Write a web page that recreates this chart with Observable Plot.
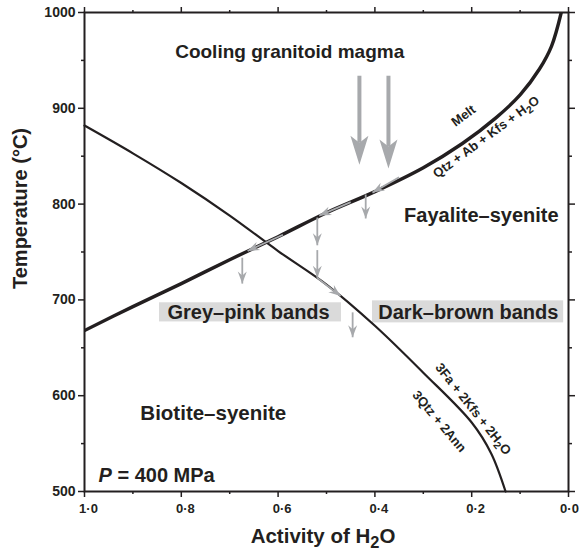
<!DOCTYPE html>
<html>
<head>
<meta charset="utf-8">
<script src="https://cdn.jsdelivr.net/npm/d3@7"></script>
<script src="https://cdn.jsdelivr.net/npm/@observablehq/plot@0.6"></script>
<style>
  html, body { margin: 0; padding: 0; background: #fff; }
</style>
</head>
<body>
<div id="chart"></div>
<script>
// ---------- data ----------
// Melt = Qtz + Ab + Kfs + H2O (activity of H2O vs temperature)
const meltA = [1.0, 0.9, 0.8, 0.7, 0.6, 0.5, 0.4, 0.3, 0.22, 0.15, 0.1, 0.06, 0.035, 0.015];
const meltT = [668, 693, 717, 742, 766, 791, 813, 838, 863, 890, 914, 941, 965, 1000];
// 3Fa + 2Kfs + 2H2O = 3Qtz + 2Ann
const fayA = [1.0, 0.9, 0.8, 0.7, 0.6, 0.5, 0.4, 0.3, 0.2, 0.16, 0.13];
const fayT = [882, 853, 822, 788, 751, 716, 673, 624, 572, 540, 500];

// big "cooling magma" arrows: activity, start T, end T (shaft end)
const bigArrowA = [0.432, 0.372];
const bigArrowT0 = [934, 934];
const bigArrowT1 = [864, 860];

// small grey arrows (tip at a1,T1)
const smallArrowA0 = [0.35, 0.45, 0.59, 0.419, 0.519, 0.519, 0.674, 0.446, 0.519];
const smallArrowT0 = [828, 802, 768, 810, 786, 752, 744, 687, 723];
const smallArrowA1 = [0.405, 0.515, 0.663, 0.419, 0.519, 0.519, 0.674, 0.446, 0.471];
const smallArrowT1 = [812, 788, 751, 785, 757, 723, 717, 661, 704];

// field / band labels
const fieldLabels = ["Cooling granitoid magma", "Fayalite–syenite", "Biotite–syenite", "P = 400 MPa"];
const fieldA = [0.576, 0.180, 0.734, 0.851];
const fieldT = [959, 788, 582, 517];
const fieldSize = [19, 20, 20.5, 20];

const bandLabels = ["Grey–pink bands", "Dark–brown bands"];
const bandA = [0.661, 0.207];
const bandT = [687, 687];
const bandBoxA1 = [0.845, 0.405];
const bandBoxA2 = [0.469, 0.010];
const bandBoxT1 = [677, 676];
const bandBoxT2 = [697, 699];

// reaction labels along curves
const curveLabels = ["Melt", "Qtz + Ab + Kfs + H₂O", "3Fa + 2Kfs + 2H₂O", "3Qtz + 2Ann"];
const curveLabelA = [0.217, 0.170, 0.197, 0.267];
const curveLabelT = [892, 870, 586, 573];
const curveLabelAngle = [-37, -36.5, 51.5, 50];

// axis ticks
const xMajor = [1.0, 0.8, 0.6, 0.4, 0.2, 0.0];
const xMinor = [0.9, 0.7, 0.5, 0.3, 0.1];
const yMajor = [500, 600, 700, 800, 900, 1000];
const yMinor = [550, 650, 750, 850, 950];

const xTitle = "Activity of H₂O";
const yTitle = "Temperature (°C)";

// ---------- build tables ----------
const melt = meltA.map((a, i) => ({a, t: meltT[i]}));
const fay = fayA.map((a, i) => ({a, t: fayT[i]}));
const bigArrows = bigArrowA.map((a, i) => ({a, t0: bigArrowT0[i], t1: bigArrowT1[i]}));
const smallArrows = smallArrowA0.map((a0, i) => ({a0, t0: smallArrowT0[i], a1: smallArrowA1[i], t1: smallArrowT1[i]}));
const fields = fieldLabels.map((text, i) => ({text, a: fieldA[i], t: fieldT[i], s: fieldSize[i]}));
const bands = bandLabels.map((text, i) => ({text, a: bandA[i], t: bandT[i], a1: bandBoxA1[i], a2: bandBoxA2[i], t1: bandBoxT1[i], t2: bandBoxT2[i]}));
const curveTexts = curveLabels.map((text, i) => ({text, a: curveLabelA[i], t: curveLabelT[i], r: curveLabelAngle[i]}));

const INK = "#231f20";
const GREY = "#a7a9ac";
const fmt = d => d.toFixed(1).replace(".", "·");
const blank = () => "";

// custom filled, notched arrow head marker
function head(len, wid, back, refAtTip) {
  return (color, context) => {
    const doc = (context && context.document) || document;
    const ns = "http://www.w3.org/2000/svg";
    const m = doc.createElementNS(ns, "marker");
    const tip = refAtTip ? 0 : len - back;
    const x0 = tip - len;
    m.setAttribute("viewBox", `${x0} ${-wid / 2} ${len} ${wid}`);
    m.setAttribute("markerWidth", len);
    m.setAttribute("markerHeight", wid);
    m.setAttribute("markerUnits", "userSpaceOnUse");
    m.setAttribute("orient", "auto");
    m.setAttribute("refX", 0);
    m.setAttribute("refY", 0);
    m.setAttribute("overflow", "visible");
    const p = doc.createElementNS(ns, "path");
    p.setAttribute("d", `M${tip},0L${x0},${-wid / 2}L${x0 + back},0L${x0},${wid / 2}Z`);
    p.setAttribute("fill", color);
    p.setAttribute("stroke", "none");
    m.appendChild(p);
    return m;
  };
}

const chart = Plot.plot({
  width: 579,
  height: 553,
  marginLeft: 84,
  marginRight: 11,
  marginTop: 12,
  marginBottom: 62,
  x: {domain: [1, 0], label: null},
  y: {domain: [500, 1000], label: null},
  style: {
    fontFamily: "'Liberation Sans', Arial, Helvetica, sans-serif",
    fontWeight: "bold",
    fontSize: "13px",
    color: INK,
    background: "#fff",
    overflow: "visible"
  },
  marks: [
    // label boxes
    Plot.rect(bands, {x1: "a1", x2: "a2", y1: "t1", y2: "t2", fill: "#dadada"}),
    // ticks (outward), all four sides
    Plot.axisX(xMajor, {anchor: "bottom", tickSize: 6, tickFormat: blank, strokeWidth: 1.5, stroke: INK, label: null}),
    Plot.axisX(xMinor, {anchor: "bottom", tickSize: 3, tickFormat: blank, strokeWidth: 1.5, stroke: INK, label: null}),
    Plot.axisX(xMajor, {anchor: "top", tickSize: 6, tickFormat: blank, strokeWidth: 1.5, stroke: INK, label: null}),
    Plot.axisX(xMinor, {anchor: "top", tickSize: 3, tickFormat: blank, strokeWidth: 1.5, stroke: INK, label: null}),
    Plot.axisY(yMajor, {anchor: "left", tickSize: 6, tickFormat: blank, strokeWidth: 1.5, stroke: INK, label: null}),
    Plot.axisY(yMinor, {anchor: "left", tickSize: 3, tickFormat: blank, strokeWidth: 1.5, stroke: INK, label: null}),
    Plot.axisY(yMajor, {anchor: "right", tickSize: 6, tickFormat: blank, strokeWidth: 1.5, stroke: INK, label: null}),
    Plot.axisY(yMinor, {anchor: "right", tickSize: 3, tickFormat: blank, strokeWidth: 1.5, stroke: INK, label: null}),
    // tick labels
    Plot.axisX(xMajor.slice(0, -1), {anchor: "bottom", tickSize: 0, tickPadding: 12, dx: 4, tickFormat: fmt, fontSize: 13, fill: INK, label: null}),
    Plot.axisX(xMajor.slice(-1), {anchor: "bottom", tickSize: 0, tickPadding: 12, dx: 1, tickFormat: fmt, fontSize: 13, fill: INK, label: null}),
    Plot.axisY(yMajor, {anchor: "left", tickSize: 0, tickPadding: 9, tickFormat: d => String(d), fontSize: 14, fill: INK, label: null}),
    // axis titles
    Plot.text([xTitle], {frameAnchor: "bottom", lineAnchor: "middle", textAnchor: "middle", dy: 45, dx: -3.5, fontSize: 20.5, fill: INK, text: d => d}),
    Plot.text([yTitle], {frameAnchor: "left", lineAnchor: "middle", textAnchor: "middle", rotate: -90, dx: -63.5, dy: -43.5, fontSize: 20, fill: INK, text: d => d}),
    // curves
    Plot.line(fay, {x: "a", y: "t", stroke: INK, strokeWidth: 2.2, curve: "catmull-rom"}),
    Plot.line(melt, {x: "a", y: "t", stroke: INK, strokeWidth: 3.4, curve: "catmull-rom", clip: true}),
    // grey arrows
    Plot.link(bigArrows, {x1: "a", x2: "a", y1: "t0", y2: "t1", stroke: GREY, strokeWidth: 4, markerEnd: head(29, 18, 7, false)}),
    Plot.link(smallArrows, {x1: "a0", y1: "t0", x2: "a1", y2: "t1", stroke: GREY, strokeWidth: 1.8, markerEnd: head(12, 9, 4, true)}),
    // text labels
    Plot.text(fields, {x: "a", y: "t", text: "text", fontSize: "s", fill: INK}),
    Plot.text(bands, {x: "a", y: "t", text: "text", fontSize: 20, fill: INK}),
    Plot.text(curveTexts, {x: "a", y: "t", text: "text", rotate: "r", fontSize: 13, fill: INK}),
    // frame
    Plot.frame({stroke: INK, strokeWidth: 2})
  ]
});

document.getElementById("chart").appendChild(chart);

// rich text: subscripts for H₂O and italic P
const NS = "http://www.w3.org/2000/svg";
chart.querySelectorAll("text").forEach(el => {
  const s = el.textContent;
  if (s.includes("₂")) {
    const fs = parseFloat(getComputedStyle(el).fontSize) || 13;
    const shift = fs * 0.24;
    const parts = s.split("₂");
    el.textContent = "";
    parts.forEach((p, i) => {
      const t = document.createElementNS(NS, "tspan");
      t.textContent = p;
      if (i > 0) t.setAttribute("dy", -shift);
      el.appendChild(t);
      if (i < parts.length - 1) {
        const sub = document.createElementNS(NS, "tspan");
        sub.textContent = "2";
        sub.setAttribute("dy", shift);
        sub.setAttribute("font-size", fs * 0.8);
        el.appendChild(sub);
      }
    });
  } else if (s === "P = 400 MPa") {
    el.textContent = "";
    const it = document.createElementNS(NS, "tspan");
    it.textContent = "P";
    it.setAttribute("font-style", "italic");
    el.appendChild(it);
    const rest = document.createElementNS(NS, "tspan");
    rest.textContent = " = 400 MPa";
    el.appendChild(rest);
  }
});
</script>
</body>
</html>
